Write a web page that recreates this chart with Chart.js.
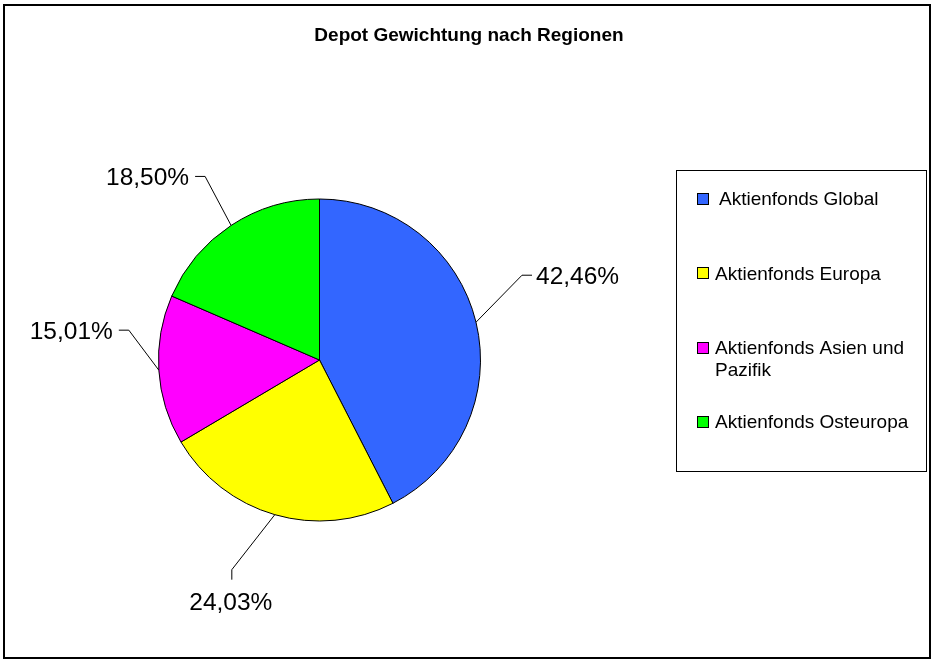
<!DOCTYPE html>
<html>
<head>
<meta charset="utf-8">
<script src="https://cdn.jsdelivr.net/npm/chart.js@4/dist/chart.umd.min.js"></script>
<style>
  html, body { margin: 0; padding: 0; background: #fff; }
  #wrap { width: 938px; height: 664px; }
</style>
</head>
<body>
<div id="wrap"><canvas id="c" width="938" height="664"></canvas></div>
<script>
// ---- data ----
const chartTitle = 'Depot Gewichtung nach Regionen';
const categories = ['Aktienfonds Global', 'Aktienfonds Europa', 'Aktienfonds Asien und Pazifik', 'Aktienfonds Osteuropa'];
const shares = [42.46, 24.03, 15.01, 18.50];
const sliceColors = ['#3366FF', '#FFFF00', '#FF00FF', '#00FF00'];

// ---- layout / style (not data) ----
// per slice: elbow offset from arc midpoint, tail offset from elbow, text offset from tail, text alignment
const labelLayout = [
  { elbow: [46, -47], tail: [10, 0], text: [4, 2], align: 'left' },
  { elbow: [-43, 55], tail: [0, 10], text: [-1, 24], align: 'center' },
  { elbow: [-30, -40], tail: [-10, 0], text: [-6, 2], align: 'right' },
  { elbow: [-26, -49], tail: [-10, 0], text: [-6, 2], align: 'right' }
];
const legendTextX = [719, 715, 715, 715];
const FONT = '"Liberation Sans", Arial, sans-serif';

function fmt(v) { return v.toFixed(2).replace('.', ',') + '%'; }

const decorPlugin = {
  id: 'decor',
  afterDraw(chart) {
    const ctx = chart.ctx;
    ctx.save();
    // outer frame
    ctx.strokeStyle = '#000';
    ctx.lineWidth = 2;
    ctx.strokeRect(4, 5, 926, 653);

    // title
    ctx.fillStyle = '#000';
    ctx.font = 'bold 19px ' + FONT;
    ctx.textAlign = 'center';
    ctx.textBaseline = 'middle';
    ctx.fillText(chartTitle, 469, 36);

    // leader lines and percentage labels
    const meta = chart.getDatasetMeta(0);
    const ds = chart.data.datasets[0];
    ctx.lineWidth = 1;
    ctx.font = '24.5px ' + FONT;
    meta.data.forEach((arc, i) => {
      const p = arc.getProps(['x', 'y', 'startAngle', 'endAngle', 'outerRadius'], true);
      const mid = (p.startAngle + p.endAngle) / 2;
      const ax = p.x + Math.cos(mid) * p.outerRadius;
      const ay = p.y + Math.sin(mid) * p.outerRadius;
      const L = labelLayout[i];
      const ex = ax + L.elbow[0], ey = ay + L.elbow[1];
      const tx = ex + L.tail[0], ty = ey + L.tail[1];
      ctx.beginPath();
      ctx.moveTo(ax, ay);
      ctx.lineTo(ex, ey);
      ctx.lineTo(tx, ty);
      ctx.strokeStyle = '#000';
      ctx.stroke();
      ctx.textAlign = L.align;
      ctx.textBaseline = 'middle';
      ctx.fillStyle = '#000';
      ctx.fillText(fmt(ds.data[i]), tx + L.text[0], ty + L.text[1]);
    });

    // legend box
    ctx.lineWidth = 1;
    ctx.strokeStyle = '#000';
    ctx.strokeRect(676.5, 170.5, 250, 301);
    ctx.font = '19px ' + FONT;
    ctx.textAlign = 'left';
    ctx.textBaseline = 'middle';
    const labels = chart.data.labels;
    labels.forEach((lab, i) => {
      const cy = 199 + i * 74.3;
      ctx.fillStyle = ds.backgroundColor[i];
      ctx.fillRect(697, Math.round(cy) - 6, 12, 12);
      ctx.strokeStyle = '#000';
      ctx.strokeRect(697.5, Math.round(cy) - 5.5, 11, 11);
      // wrap text
      const words = lab.split(' ');
      const lines = [];
      let cur = '';
      words.forEach(w => {
        const t = cur ? cur + ' ' + w : w;
        if (ctx.measureText(t).width > 200 && cur) { lines.push(cur); cur = w; }
        else cur = t;
      });
      lines.push(cur);
      ctx.fillStyle = '#000';
      lines.forEach((ln, k) => ctx.fillText(ln, legendTextX[i], cy + 1 + k * 22));
    });
    ctx.restore();
  }
};

new Chart(document.getElementById('c'), {
  type: 'pie',
  data: {
    labels: categories,
    datasets: [{
      data: shares,
      backgroundColor: sliceColors,
      borderColor: '#000',
      borderWidth: 1
    }]
  },
  options: {
    responsive: false,
    animation: false,
    layout: { padding: { left: 158, right: 457, top: 198, bottom: 142 } },
    plugins: {
      legend: { display: false },
      title: { display: false },
      tooltip: { enabled: false }
    }
  },
  plugins: [decorPlugin]
});
</script>
</body>
</html>
